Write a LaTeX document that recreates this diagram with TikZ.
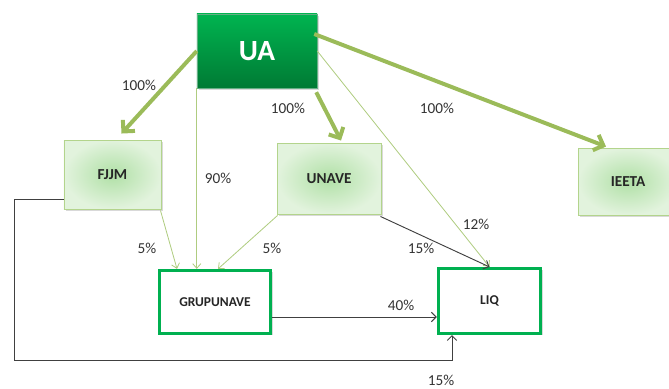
\documentclass[tikz,border=0pt]{standalone}
\usepackage{fontspec}
\setmainfont{Carlito}
\usetikzlibrary{positioning,arrows.meta,shadows}

\definecolor{uaTop}{HTML}{00B450}
\definecolor{uaBot}{HTML}{007A34}
\definecolor{paleGreen}{HTML}{E2F3DD}
\definecolor{midGreen}{HTML}{B0E0A6}
\definecolor{edgeGreen}{HTML}{B3D48C}
\definecolor{olive}{HTML}{9BBB59}
\definecolor{thinGreen}{HTML}{AFCC80}
\definecolor{boxGreen}{HTML}{00B050}
\definecolor{darkLine}{HTML}{404040}

\begin{document}
\begin{tikzpicture}[
        x=0.03cm, y=-0.03cm,
        shadowed/.style={drop shadow={shadow xshift=1.5pt, shadow yshift=-1.5pt, opacity=0.3}},
        topbox/.style={rectangle, draw=uaBot!60, top color=uaTop, bottom color=uaBot, shadowed,
            minimum width=3.6cm, minimum height=2.22cm, text=white, font=\bfseries\fontsize{25}{28}\selectfont},
        unit/.style={rectangle, draw=edgeGreen, line width=0.8pt, inner color=midGreen, outer color=paleGreen, shadowed,
            text=black!85, font=\bfseries\fontsize{13}{15}\selectfont},
        project/.style={rectangle, draw=boxGreen, line width=2.4pt, fill=white, shadowed,
            text=black!85, font=\bfseries\fontsize{11.5}{13}\selectfont},
        pct/.style={font=\fontsize{13}{15}\selectfont, text=black!80},
        owns/.style={draw=olive, line width=3.4pt, -{Straight Barb[length=7pt,width=14pt]}},
        share/.style={draw=thinGreen, line width=0.7pt, -{Straight Barb[length=4pt,width=7pt]}},
        link/.style={draw=darkLine, line width=0.8pt, -{Straight Barb[length=4pt,width=8pt]}}
    ]
        \useasboundingbox (0,0) rectangle (669,388);
        \clip (0,0) rectangle (669,388);

        % Boxes
        \node[topbox] (UA) at (257,51) {UA};
        \node[unit, minimum width=2.91cm, minimum height=2.07cm] (FJJM) at (112.5,174.5) {FJJM};
        \node[unit, minimum width=3.12cm, minimum height=2.13cm] (UNAVE) at (329,178.5) {UNAVE};
        \node[unit, minimum width=3.0cm, minimum height=2.01cm] (IEETA) at (628,181.5) {IEETA};
        \node[project, minimum width=3.35cm, minimum height=1.9cm] (GRUP) at (215,302) {GRUPUNAVE};
        \node[project, minimum width=3.08cm, minimum height=1.96cm] (LIQ) at (489.5,301) {LIQ};
        \coordinate (loopL) at (14,360);

        % UA holdings
        \draw[owns] (UA.west) -- ([shift={(9,-6)}]FJJM.north);
        \draw[owns] ([shift={(-1,4)}]UA.south east) -- ([shift={(12,-2)}]UNAVE.north);
        \draw[owns] ([shift={(-3,-17)}]UA.east) -- ([shift={(-22,-1)}]IEETA.north);

        % thin shares
        \draw[share] (UA.south west) -- (UA.south west |- GRUP.north);
        \draw[share] (UA.east) -- (LIQ.north);
        \draw[share] ([shift={(-1,1)}]FJJM.south east) -- ([shift={(-38,0)}]GRUP.north);
        \draw[share] ([shift={(1,1)}]UNAVE.south west) -- ([shift={(3,0)}]GRUP.north);

        % other links
        \draw[link] ([shift={(-1,2)}]UNAVE.south east) -- (LIQ.north);
        \draw[link] ([shift={(0,15)}]GRUP.east) -- ([shift={(0,15)}]GRUP.east -| LIQ.west);
        \draw[link] ([shift={(0,24.5)}]FJJM.west) -| (loopL) -| ([shift={(-37.5,0)}]LIQ.south);

        % percentages
        \node[pct] (p1) at (139,85) {100\%};
        \node[pct] (p2) at (288,108) {100\%};
        \node[pct] (p3) at (437,108) {100\%};
        \node[pct] (p4) at (218,178) {90\%};
        \node[pct] (p5) at (147,248) {5\%};
        \node[pct] (p6) at (272,248) {5\%};
        \node[pct] (p7) at (421,248) {15\%};
        \node[pct] (p8) at (476,224) {12\%};
        \node[pct] (p9) at (401,305) {40\%};
        \node[pct] (p10) at (441,380) {15\%};

    \end{tikzpicture}
\end{document}
